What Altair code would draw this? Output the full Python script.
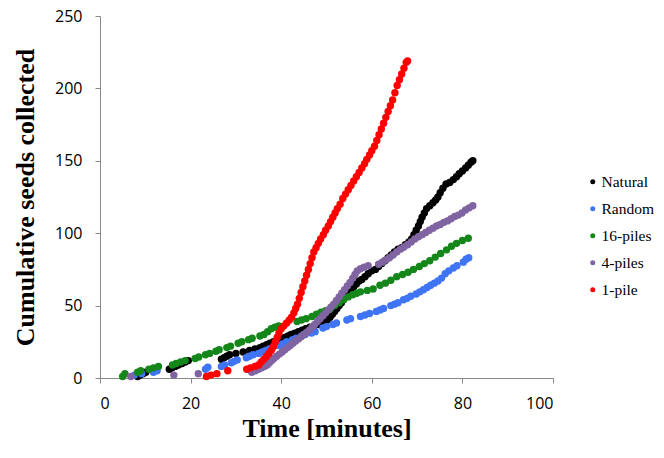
import altair as alt
import pandas as pd

series_names = ["Natural", "Random", "16-piles", "4-piles", "1-pile"]
series_colors = ["#000000", "#3F74F5", "#15871A", "#8064A2", "#FF0000"]

natural_t = [8.3, 8.9, 9.5, 10.1, 15.3, 15.9, 16.6, 17.3, 18.1, 18.8, 19.5, 26.8, 27.4, 28.0, 28.6,
             30.0, 31.6, 33.0, 34.2, 35.3, 36.0, 36.8, 37.5, 38.3, 39.2, 40.0, 40.8, 41.5, 42.2, 43.0,
             43.8, 44.6, 45.4, 46.3, 47.3, 48.2, 49.0, 49.6, 50.2, 50.8, 51.3, 51.8, 52.3, 52.8, 53.3,
             53.8, 54.3, 54.8, 55.4, 56.0, 56.6, 57.2, 57.8, 58.5, 59.2, 60.0, 60.8, 61.5, 62.2, 62.9,
             63.6, 64.3, 65.0, 65.8, 66.6, 67.4, 68.2, 68.8, 69.3, 69.8, 70.3, 70.7, 71.1, 71.6, 72.1,
             72.8, 73.5, 74.1, 74.6, 75.1, 75.7, 76.4, 77.2, 78.0, 78.7, 79.3, 80.0, 80.7, 81.3, 81.9, 82.3]
natural_v = [1, 2, 3, 4, 6, 7, 8, 9, 10, 11, 12, 13, 14, 15, 16,
             17, 18, 19, 20, 21, 22, 23, 24, 25, 26, 27, 28, 29, 30, 31,
             32, 33, 34, 35, 36, 37, 38, 39, 40, 42, 44, 46, 48, 50, 52,
             54.5, 57, 59, 61, 63, 65, 67, 68, 70, 72, 74, 75, 77, 79, 81,
             83, 85, 87, 89, 90, 92, 94, 96, 99, 102, 105, 108, 111, 114, 117,
             119, 121, 123, 125, 128, 131, 134, 135, 137, 139, 141, 143, 145, 147, 149, 150]

random_t = [7.6, 9.2, 11.8, 12.6, 23.3, 23.8, 26.8, 27.5, 29.0, 29.6, 30.3, 32.3, 33.0, 33.8, 35.0,
            35.8, 36.6, 37.4, 38.2, 39.5, 40.3, 41.2, 42.5, 43.3, 44.5, 45.3, 46.7, 47.5, 49.2, 50.0,
            51.4, 52.2, 54.5, 55.3, 57.5, 58.5, 59.5, 61.0, 61.8, 62.6, 64.2, 65.0, 65.8, 67.0, 67.8,
            68.6, 69.8, 70.6, 71.4, 72.2, 73.0, 73.8, 74.6, 75.4, 76.2, 77.0, 78.0, 78.8, 80.2, 80.8, 81.4]
random_v = [2, 3, 4, 5, 6, 7.5, 8, 9, 10.5, 11.5, 12.5, 14, 15, 16, 17,
            18, 19, 20, 21, 22.5, 23.5, 25, 26.5, 27.5, 29, 30, 31, 32, 34.5, 35.5,
            37, 38, 40, 41, 42.5, 43.5, 44.5, 46, 47, 48, 50, 51, 52, 54, 55,
            56.5, 58, 59.5, 61, 62.5, 64, 65.5, 67, 69, 72, 74, 76, 77.5, 80, 82, 83]

piles16_t = [5.0, 5.5, 8.3, 9.0, 10.8, 11.8, 12.9, 16.0, 16.8, 17.8, 18.8, 21.0, 21.8, 23.3, 24.2,
             25.6, 26.3, 28.0, 28.8, 30.5, 31.3, 32.8, 33.6, 35.3, 36.2, 37.0, 37.8, 38.6, 39.4, 43.5,
             44.5, 45.5, 46.8, 47.8, 48.8, 49.8, 50.8, 51.8, 52.8, 53.8, 54.8, 55.8, 56.7, 57.5, 59.0,
             60.3, 61.8, 63.0, 64.2, 65.5, 66.8, 68.0, 69.2, 70.5, 71.6, 72.8, 74.0, 75.2, 76.5, 77.6,
             78.7, 80.0, 81.3]
piles16_v = [1, 3, 4, 5, 6, 7, 8, 9, 10, 11, 12, 13.5, 14.5, 16, 17,
             18.5, 19.5, 21, 22, 24, 25, 26.5, 27.5, 29, 30, 32, 34, 35, 36, 39,
             40, 41, 42.5, 44, 45.5, 46.5, 47.5, 50, 52, 54, 56, 57.5, 58.5, 59.5, 60.5,
             61.5, 64, 65.5, 67.5, 70, 71.5, 73, 75, 77, 79, 81, 83.5, 86, 88.5, 91,
             93, 95, 96.5]

piles4_t = [6.8, 16.3, 21.7, 33.5, 34.3, 35.0, 35.7, 36.3, 36.9, 37.4, 37.9, 38.4, 39.0, 39.6, 40.2,
            40.8, 41.4, 42.0, 42.6, 43.2, 43.8, 44.4, 45.0, 45.6, 46.2, 46.8, 47.4, 48.0, 48.6, 49.2,
            49.8, 50.4, 51.0, 51.6, 52.2, 52.8, 53.4, 54.0, 54.6, 55.2, 55.8, 56.3, 56.8, 57.5, 58.3,
            59.2, 61.5, 62.3, 63.1, 63.9, 64.7, 65.5, 66.3, 67.1, 67.9, 68.7, 69.5, 70.3, 71.1, 71.9,
            72.7, 73.5, 74.3, 75.1, 75.9, 76.7, 77.5, 78.3, 79.1, 79.9, 80.7, 81.5, 82.3]
piles4_v = [1, 2, 3, 4, 5, 6, 7, 8, 9, 10.5, 12, 13.5, 15, 16.5, 18,
            19.5, 21, 22.5, 24, 25.5, 27, 28.5, 30, 31.5, 33, 35, 37, 39, 41, 43,
            45, 47, 49, 51, 53.5, 56, 58.5, 61, 63.5, 66, 69, 71.5, 74, 75.5, 76.5,
            77.5, 78.5, 80, 81.5, 83, 85, 87, 89, 90.5, 92, 94, 96, 97.5, 99, 100.5,
            102, 103.5, 105, 106, 107.5, 108.5, 110, 111.5, 112.5, 114, 116, 117.5, 119]

pile1_t = [23.5, 24.5, 25.8, 28.2, 32.4, 33.2, 34.2, 35.0, 35.6, 36.2, 36.8, 37.3, 37.8, 38.3, 38.7,
           39.1, 39.5, 40.0, 40.6, 41.2, 41.8, 42.3, 42.8, 43.2, 43.6, 44.0, 44.4, 44.8, 45.2, 45.6,
           46.0, 46.4, 46.8, 47.2, 47.7, 48.2, 48.7, 49.3, 49.8, 50.4, 50.9, 51.4, 51.9, 52.4, 53.0,
           53.6, 54.2, 54.8, 55.4, 56.0, 56.6, 57.2, 57.8, 58.4, 58.9, 59.5, 60.0, 60.6, 61.1, 61.6,
           62.1, 62.6, 63.1, 63.6, 64.1, 64.6, 65.1, 65.6, 66.1, 66.6, 67.1, 67.6, 67.9]
pile1_v = [1, 2, 3, 5, 6, 7, 8, 9, 11, 13, 15, 17, 19, 22, 25,
           28, 31, 34, 36, 38, 40, 42, 45, 48, 51, 55, 59, 63, 67, 71,
           75, 79, 83, 87, 90, 93, 96, 99, 102, 105, 108, 111, 114, 117, 120,
           124, 127, 130, 133, 136, 139, 142, 145, 148, 151, 154, 157, 160, 164, 168,
           172, 176, 180, 184, 188, 192, 197, 202, 206, 210, 214, 218, 219]

x_ticks = [0, 20, 40, 60, 80, 100]
y_ticks = [0, 50, 100, 150, 200, 250]

rows = []
for name, ts, vs in [("Natural", natural_t, natural_v), ("Random", random_t, random_v),
                     ("16-piles", piles16_t, piles16_v), ("4-piles", piles4_t, piles4_v),
                     ("1-pile", pile1_t, pile1_v)]:
    for t, v in zip(ts, vs):
        rows.append({"series": name, "time": t, "seeds": v})
df = pd.DataFrame(rows)

axis_common = dict(
    grid=False, domainColor="#888888", tickColor="#888888", tickSize=5,
    labelFont="Open Sans", labelFontSize=16, labelColor="#000000",
    titleFont="Liberation Serif", titleFontSize=26, titleFontWeight="bold", titleColor="#000000",
)

chart = alt.Chart(df).mark_circle(size=55, opacity=1).encode(
    x=alt.X("time:Q", scale=alt.Scale(domain=[0, 100], nice=False),
            axis=alt.Axis(values=x_ticks, title="Time [minutes]", labelPadding=12, titlePadding=4,
                          **axis_common)),
    y=alt.Y("seeds:Q", scale=alt.Scale(domain=[0, 250], nice=False),
            axis=alt.Axis(values=y_ticks, title="Cumulative seeds collected", labelPadding=13,
                          titlePadding=16, **axis_common)),
    color=alt.Color("series:N", scale=alt.Scale(domain=series_names, range=series_colors),
                    legend=alt.Legend(title=None, orient="none", legendX=485, legendY=158,
                                      symbolType="circle", symbolSize=25, symbolStrokeWidth=0,
                                      labelFont="Liberation Serif", labelFontSize=15.5,
                                      labelColor="#000000", labelOffset=1, rowPadding=10,
                                      padding=0)),
    order=alt.Order("series_order:Q"),
).transform_calculate(
    series_order="indexof(['Natural','Random','16-piles','4-piles','1-pile'], datum.series)"
).properties(
    width=453, height=362,
    autosize=alt.AutoSizeParams(type="none"),
    padding={"left": 92, "top": 8, "right": 102, "bottom": 66},
).configure_view(strokeWidth=0)

chart.save("out.html", embed_options={"renderer": "svg", "actions": False})
